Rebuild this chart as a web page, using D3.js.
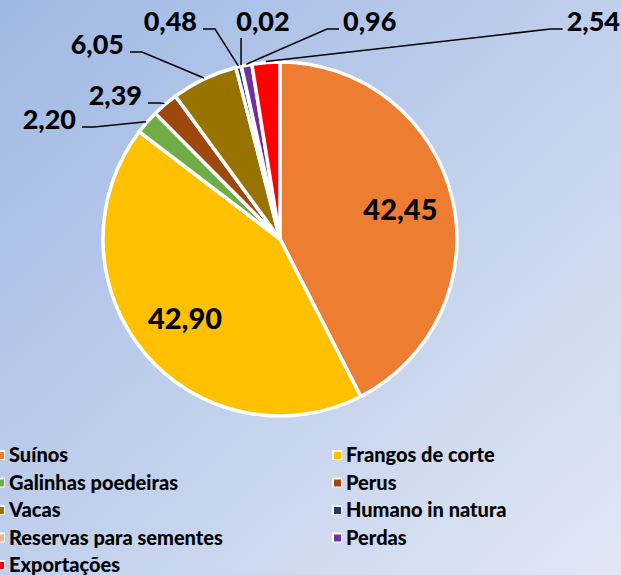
<!DOCTYPE html>
<meta charset="utf-8">
<style>
  body { margin: 0; }
  svg { display: block; }
  text { font-family: Lato, "Open Sans", sans-serif; font-weight: 900; fill: #000; }
</style>
<body>
<svg width="621" height="575"></svg>
<script src="https://d3js.org/d3.v7.min.js"></script>
<script>
const categories = ["Suínos", "Frangos de corte", "Galinhas poedeiras", "Perus", "Vacas",
  "Humano in natura", "Reservas para sementes", "Perdas", "Exportações"];
const values = [42.45, 42.90, 2.20, 2.39, 6.05, 0.48, 0.02, 0.96, 2.54];
const colors = ["#ED7D31", "#FFC000", "#70AD47", "#9E480E", "#997300",
  "#1F3864", "#F4B183", "#7030A0", "#FF0000"];

const width = 621, height = 575;
const cx = 280, cy = 239, r = 177;
const svg = d3.select("svg");

const grad = svg.append("defs").append("linearGradient")
  .attr("id", "bg").attr("x1", 0).attr("y1", 0).attr("x2", 1).attr("y2", 1);
grad.append("stop").attr("offset", 0).attr("stop-color", "#9FB8E4");
grad.append("stop").attr("offset", 1).attr("stop-color", "#E1E7F4");
svg.append("rect").attr("width", width).attr("height", height).attr("fill", "url(#bg)");

const pie = d3.pie().sort(null).value(d => d)(values);
const arc = d3.arc().innerRadius(0).outerRadius(r);
const g = svg.append("g").attr("transform", `translate(${cx},${cy})`);

g.selectAll("path")
  .data(pie)
  .join("path")
  .attr("d", arc)
  .attr("fill", (d, i) => colors[i])
  .attr("stroke", "#fff")
  .attr("stroke-width", 3.5);

const fmt = v => d3.format(".2f")(v).replace(".", ",");

// big labels inside
const inner = d3.arc().innerRadius(r * 0.7).outerRadius(r * 0.7);
g.selectAll("text.in")
  .data(pie.filter(d => d.value > 10))
  .join("text")
  .attr("class", "in")
  .attr("transform", d => `translate(${inner.centroid(d)})`)
  .attr("text-anchor", "middle")
  .attr("dy", "0.35em")
  .style("font-size", "29px")
  .text(d => fmt(d.value));

// outside labels: text position (relative to center) and anchor
const labelPos = {
  2: { x: -204, y: -119, side: "end" },
  3: { x: -138, y: -143, side: "end" },
  4: { x: -156, y: -194, side: "end" },
  5: { x: -83, y: -217, side: "end" },
  6: { x: -17, y: -217, side: "middle" },
  7: { x: 63, y: -217, side: "start" },
  8: { x: 340, y: -217, side: "end" }
};
const edge = d3.arc().innerRadius(r + 1).outerRadius(r + 1);

pie.forEach((d, i) => {
  const p = labelPos[i];
  if (!p) return;
  const t = g.append("text")
    .attr("x", p.x).attr("y", p.y)
    .attr("text-anchor", p.side)
    .attr("dy", "0.35em")
    .style("font-size", "27px")
    .text(fmt(d.value));
  const w = t.node().getComputedTextLength();
  const [ex, ey] = edge.centroid(d);
  let pts;
  if (i === 6) {
    pts = [[ex, p.y + 16], [ex, ey]];
  } else if (i === 7) {
    pts = [[p.x - 4, p.y + 7], [p.x - 16, p.y + 7], [ex, ey]];
  } else if (i === 8) {
    pts = [[p.x - w - 4, p.y + 7], [p.x - w - 16, p.y + 7], [ex, ey]];
  } else {
    const lx = p.x + 6;
    pts = [[lx, p.y + 7], [lx + 12, p.y + 7], [ex, ey]];
  }
  g.append("path")
    .attr("d", d3.line()(pts))
    .attr("fill", "none")
    .attr("stroke", "#000")
    .attr("stroke-width", 1.5);
});

// legend
const legend = svg.append("g");
const cols = [0, 337];
categories.forEach((c, i) => {
  const col = i % 2, row = Math.floor(i / 2);
  const y = 455 + row * 27.5;
  const lg = legend.append("g").attr("transform", `translate(${cols[col]},${y})`);
  lg.append("rect").attr("x", -5).attr("y", -5).attr("width", 10).attr("height", 10)
    .attr("fill", "#fff");
  lg.append("rect").attr("x", -3).attr("y", -3).attr("width", 7).attr("height", 7)
    .attr("fill", colors[i]);
  lg.append("text").attr("x", 9).attr("dy", "0.35em")
    .style("font-size", "20px").text(c);
});
</script>
</body>
